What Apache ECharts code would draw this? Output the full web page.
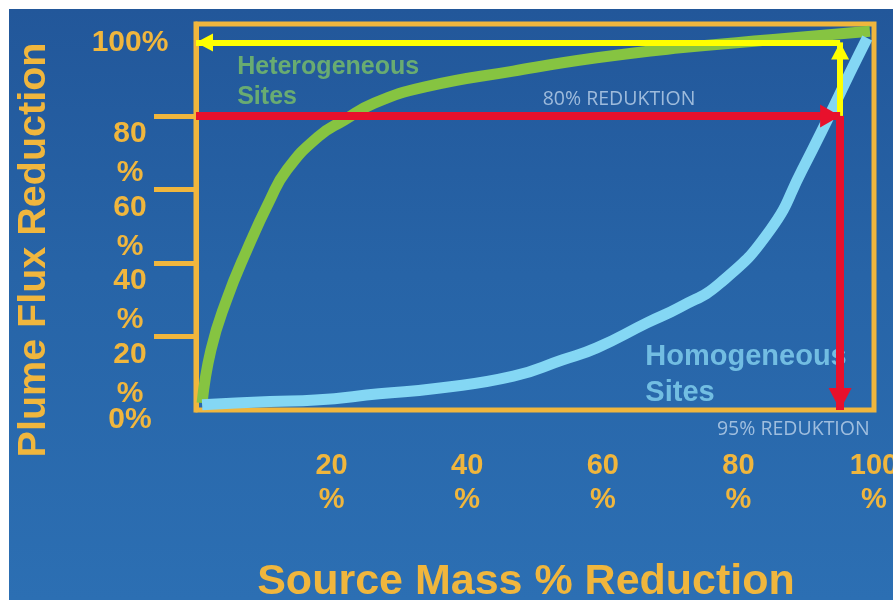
<!DOCTYPE html>
<html>
<head>
<meta charset="utf-8">
<title>Plume Flux Reduction vs Source Mass Reduction</title>
<script src="https://cdn.jsdelivr.net/npm/echarts@6/dist/echarts.min.js"></script>
<style>
  html, body { margin: 0; padding: 0; background: #ffffff; }
  #chart {
    position: absolute; left: 9px; top: 9px; width: 884px; height: 591px;
    background: linear-gradient(180deg, #22579a 0%, #2764a7 45%, #2c6fb3 100%);
  }
</style>
</head>
<body>
<div id="chart"></div>
<script>
// Source mass reduction (%) and the resulting plume flux reduction (%)
const heterogeneousMass = [0.9, 2.2, 4.5, 7.5, 10.9, 13.4, 18.0, 21.9, 26.3, 33.8, 46.8, 59.1, 71.4, 84.7, 99.4];
const heterogeneousFlux = [1.9, 16.3, 29.9, 43.5, 57.1, 65.3, 74.3, 78.9, 83.5, 87.9, 92.2, 95.8, 98.5, 100.7, 103.0];
const homogeneousMass = [0.9, 10.9, 17.6, 27.0, 36.0, 46.8, 54.0, 59.1, 66.5, 71.4, 77.3, 84.7, 89.4, 93.1, 96.5, 99.0];
const homogeneousFlux = [1.4, 2.3, 2.7, 4.4, 6.0, 9.2, 13.6, 16.9, 23.7, 28.0, 34.5, 49.0, 65.3, 78.9, 91.9, 101.2];

const siteTypes = ['Heterogeneous Sites', 'Homogeneous Sites'];
const xTicks = [20, 40, 60, 80, 100];
const yTicks = [20, 40, 60, 80];      // two-line labels with a tick mark
const yEndTicks = [0, 100];           // single-line end labels

// Reading for homogeneous sites: flux reduction reached and mass reduction needed
const fluxTarget = 80;
const massTarget = 95;
const fullReduction = 100;

const GOLD = '#F0B63D';
const RED = '#E8102C';
const YELLOW = '#FFFF00';
const GREEN = '#86C441';
const CYAN = '#84D7F4';
const FONT = '"Liberation Sans", Arial, Helvetica, sans-serif';

const pairs = (xs, ys) => xs.map((x, i) => [x, ys[i]]);
const twoLines = s => s.replace(' ', '\n');

const labelRich = {
  n: { color: GOLD, fontFamily: FONT, fontWeight: 'bold', fontSize: 30, lineHeight: 36 },
  p: { color: GOLD, fontFamily: FONT, fontWeight: 'bold', fontSize: 30, lineHeight: 42 },
  t: { color: GOLD, fontFamily: FONT, fontWeight: 'bold', fontSize: 30, lineHeight: 20 },
  s: { fontSize: 10, lineHeight: 20 }
};
const xRich = {
  n: { color: GOLD, fontFamily: FONT, fontWeight: 'bold', fontSize: 29, lineHeight: 34 },
  p: { color: GOLD, fontFamily: FONT, fontWeight: 'bold', fontSize: 29, lineHeight: 34 }
};

const arrowEnd = (coord, color, size) => ({
  coord, symbol: 'triangle', symbolSize: size, symbolOffset: [0, '50%'],
  itemStyle: { color }, lineStyle: { color }
});
const plainEnd = (coord, color, width) => ({
  coord, symbol: 'none', itemStyle: { color }, lineStyle: { color, width, type: 'solid' }
});

const chart = echarts.init(document.getElementById('chart'), null, { renderer: 'canvas' });

const option = {
  animation: false,
  backgroundColor: 'transparent',
  grid: {
    left: 187, top: 15, width: 678, height: 386,
    show: true, borderColor: GOLD, borderWidth: 5, backgroundColor: 'transparent',
    containLabel: false, outerBoundsMode: 'none'
  },
  xAxis: {
    type: 'value', min: 0, max: 100, interval: 20,
    name: 'Source Mass % Reduction', nameLocation: 'middle', nameGap: 149, nameMoveOverlap: false,
    nameTextStyle: {
      color: GOLD, fontFamily: FONT, fontWeight: 'bold', fontSize: 43, lineHeight: 46,
      padding: [0, 18, 0, 0]
    },
    axisLine: { show: false }, axisTick: { show: false }, splitLine: { show: false },
    axisLabel: {
      customValues: xTicks, margin: 39, showMinLabel: true, showMaxLabel: true, hideOverlap: false,
      formatter: v => `{n|${v}}\n{p|%}`, rich: xRich
    }
  },
  yAxis: [{
    type: 'value', min: 0, max: 105, interval: 20,
    name: 'Plume Flux Reduction', nameLocation: 'middle', nameGap: 140, nameMoveOverlap: false,
    nameTextStyle: {
      color: GOLD, fontFamily: FONT, fontWeight: 'bold', fontSize: 39.5, lineHeight: 44,
      padding: [0, 66, 0, 0]
    },
    axisLine: { show: true, lineStyle: { color: GOLD, width: 5 } },
    axisTick: { show: true, customValues: yTicks, length: 42, lineStyle: { color: GOLD, width: 5 } },
    splitLine: { show: false },
    axisLabel: {
      customValues: yTicks, margin: 66, align: 'center', verticalAlign: 'top',
      showMinLabel: true, showMaxLabel: true, hideOverlap: false,
      formatter: v => `{n|${v}}\n{p|%}`, rich: labelRich
    }
  }, {
    type: 'value', min: 0, max: 105, interval: 20, position: 'left',
    axisLine: { show: false }, axisTick: { show: false }, splitLine: { show: false },
    axisLabel: {
      customValues: yEndTicks, margin: 66, align: 'center', verticalAlign: 'middle',
      showMinLabel: true, showMaxLabel: true, hideOverlap: false,
      formatter: v => (v === 0 ? `{s| }\n{t|${v}%}` : `{t|${v}%}`), rich: labelRich
    }
  }],
  series: [{
    name: siteTypes[0], type: 'line', yAxisIndex: 0, z: 2, clip: false, silent: true,
    data: pairs(heterogeneousMass, heterogeneousFlux),
    smooth: 0.5, showSymbol: false, symbol: 'none',
    lineStyle: { color: GREEN, width: 11 }
  }, {
    name: siteTypes[1], type: 'line', yAxisIndex: 0, z: 2, clip: false, silent: true,
    data: pairs(homogeneousMass, homogeneousFlux),
    smooth: 0.5, showSymbol: false, symbol: 'none',
    lineStyle: { color: CYAN, width: 11 },
    markLine: {
      silent: true, z: 5, animation: false,
      label: { show: false }, emphasis: { disabled: true },
      data: [
        [plainEnd([massTarget, fluxTarget], YELLOW, 6), arrowEnd([massTarget, fullReduction], YELLOW, [18, 17])],
        [plainEnd([massTarget, fullReduction], YELLOW, 6), arrowEnd([0, fullReduction], YELLOW, [18, 17])],
        [plainEnd([0, fluxTarget], RED, 8), arrowEnd([massTarget, fluxTarget], RED, [23, 20])],
        [plainEnd([massTarget, fluxTarget], RED, 8), arrowEnd([massTarget, 0], RED, [23, 22])]
      ]
    }
  }, {
    name: 'notes', type: 'scatter', yAxisIndex: 0, z: 3, clip: false, silent: true,
    symbolSize: 1, itemStyle: { color: 'rgba(0,0,0,0)' },
    label: { show: true },
    data: [{
      value: [6.0, 89.2],
      label: {
        formatter: twoLines(siteTypes[0]), position: 'right', distance: 0, align: 'left',
        color: '#7AC066', fontFamily: FONT, fontWeight: 'bold', fontSize: 25, lineHeight: 30
      }
    }, {
      value: [66.2, 9.5],
      label: {
        formatter: twoLines(siteTypes[1]), position: 'right', distance: 0, align: 'left',
        color: '#84D3F0', fontFamily: FONT, fontWeight: 'bold', fontSize: 29, lineHeight: 36
      }
    }, {
      value: [62.4, 84.5],
      label: {
        formatter: `${fluxTarget}% REDUKTION`, position: 'inside',
        color: '#BDD3EB', fontFamily: '"Open Sans", sans-serif', fontSize: 19.5
      }
    }, {
      value: [88.1, -5.4],
      label: {
        formatter: `${massTarget}% REDUKTION`, position: 'inside',
        color: '#BDD3EB', fontFamily: '"Open Sans", sans-serif', fontSize: 19.5
      }
    }]
  }]
};

chart.setOption(option);
</script>
</body>
</html>
